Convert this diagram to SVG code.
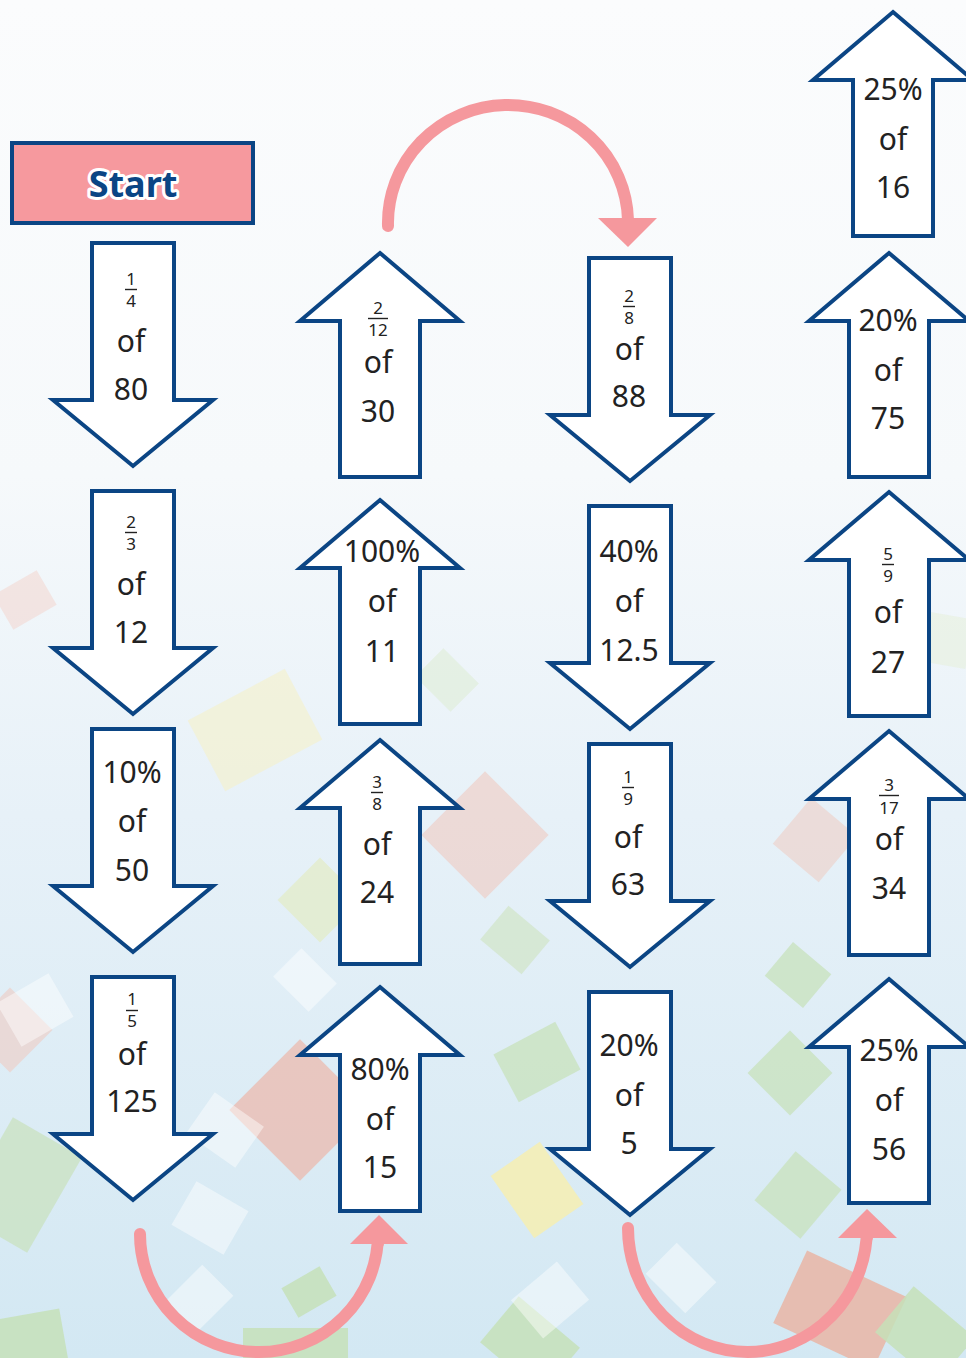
<svg xmlns="http://www.w3.org/2000/svg" xmlns:xlink="http://www.w3.org/1999/xlink" width="966" height="1358" viewBox="0 0 966 1358">
<style>
.ar{fill:#ffffff;stroke:#0b4584;stroke-width:4;stroke-linejoin:miter}
.t{font-family:"Noto Sans","Open Sans",sans-serif;font-size:30px;fill:#222222;text-anchor:middle}
.f{font-family:"Noto Sans","Open Sans",sans-serif;font-size:17px;fill:#222222;text-anchor:middle}
.bar{stroke:#222222;stroke-width:1.4}
.cf{stroke:none}
.pk{fill:none;stroke:#f5989d;stroke-width:12;stroke-linecap:round}
.ph{fill:#f5989d;stroke:none}
</style>
<defs>
<linearGradient id="bg" x1="0" y1="0" x2="0" y2="1">
<stop offset="0" stop-color="#fbfcfd"/>
<stop offset="0.35" stop-color="#f6f9fb"/>
<stop offset="0.6" stop-color="#e7f1f8"/>
<stop offset="1" stop-color="#d3e8f3"/>
</linearGradient>
<path id="down" d="M-41,0 H41 V157 H80 L0,223 L-80,157 H-41 Z"/>
<path id="up" d="M0,0 L80,68 H40 V224 H-40 V68 H-80 Z"/>
</defs>
<rect x="0" y="0" width="966" height="1358" fill="url(#bg)"/>
<g id="confetti" class="cf">
<rect x="-25" y="-20" width="50" height="40" fill="#f3cfc6" opacity="0.45" transform="translate(25,600) rotate(-30)"/>
<rect x="-55" y="-40" width="110" height="80" fill="#f6f0c4" opacity="0.55" transform="translate(255,730) rotate(-28)"/>
<rect x="-45" y="-45" width="90" height="90" fill="#f1c6bb" opacity="0.55" transform="translate(485,835) rotate(45)"/>
<rect x="-30" y="-30" width="60" height="60" fill="#e3ebbd" opacity="0.6" transform="translate(320,900) rotate(45)"/>
<rect x="-27" y="-22" width="54" height="44" fill="#cfe4c3" opacity="0.65" transform="translate(515,940) rotate(40)"/>
<rect x="-30" y="-30" width="60" height="60" fill="#f0c7bb" opacity="0.5" transform="translate(815,840) rotate(40)"/>
<rect x="-30" y="-30" width="60" height="60" fill="#f1c9be" opacity="0.55" transform="translate(10,1030) rotate(45)"/>
<rect x="-50" y="-50" width="100" height="100" fill="#ecb7a9" opacity="0.7" transform="translate(300,1110) rotate(45)"/>
<rect x="-40" y="-55" width="80" height="110" fill="#c9e1bc" opacity="0.7" transform="translate(20,1185) rotate(30)"/>
<rect x="-35" y="-27" width="70" height="54" fill="#c9e2bf" opacity="0.8" transform="translate(537,1062) rotate(-28)"/>
<rect x="-30" y="-38" width="60" height="76" fill="#f6eeb2" opacity="0.85" transform="translate(537,1190) rotate(-35)"/>
<rect x="-25" y="-22" width="50" height="44" fill="#c9e2bf" opacity="0.8" transform="translate(798,975) rotate(40)"/>
<rect x="-30" y="-30" width="60" height="60" fill="#c9e2bf" opacity="0.8" transform="translate(790,1073) rotate(45)"/>
<rect x="-30" y="-32" width="60" height="64" fill="#c9e2bf" opacity="0.8" transform="translate(798,1195) rotate(40)"/>
<rect x="-55" y="-40" width="110" height="80" fill="#e9b5a5" opacity="0.85" transform="translate(840,1310) rotate(25)"/>
<rect x="243" y="1328" width="105" height="40" fill="#c6e1b9" opacity="0.85"/>
<rect x="-22" y="-17" width="44" height="34" fill="#c6e1b9" opacity="0.85" transform="translate(309,1292) rotate(-30)"/>
<rect x="-40" y="-30" width="80" height="60" fill="#c6e1b9" opacity="0.85" transform="translate(25,1345) rotate(-10)"/>
<rect x="-40" y="-30" width="80" height="60" fill="#c6e1b9" opacity="0.85" transform="translate(530,1345) rotate(40)"/>
<rect x="-40" y="-30" width="80" height="60" fill="#c6e1b9" opacity="0.85" transform="translate(925,1335) rotate(40)"/>
<rect x="-30" y="-25" width="60" height="50" fill="#ffffff" opacity="0.45" transform="translate(35,1010) rotate(-30)"/>
<rect x="-30" y="-25" width="60" height="50" fill="#ffffff" opacity="0.45" transform="translate(210,1218) rotate(30)"/>
<rect x="-28" y="-22" width="56" height="44" fill="#ffffff" opacity="0.45" transform="translate(198,1300) rotate(-45)"/>
<rect x="-30" y="-25" width="60" height="50" fill="#ffffff" opacity="0.45" transform="translate(225,1130) rotate(35)"/>
<rect x="-28" y="-22" width="56" height="44" fill="#ffffff" opacity="0.45" transform="translate(681,1278) rotate(45)"/>
<rect x="-30" y="-25" width="60" height="50" fill="#ffffff" opacity="0.45" transform="translate(550,1300) rotate(-40)"/>
<rect x="-25" y="-20" width="50" height="40" fill="#ffffff" opacity="0.45" transform="translate(305,980) rotate(45)"/>
<rect x="-25" y="-20" width="50" height="40" fill="#dbeccf" opacity="0.5" transform="translate(447,680) rotate(45)"/>
<rect x="-25" y="-25" width="50" height="50" fill="#e6efd7" opacity="0.5" transform="translate(945,640) rotate(10)"/>
</g>
<g id="start">
<rect x="12" y="143" width="241" height="80" fill="#f6999e" stroke="#0b4584" stroke-width="4"/>
<text x="133" y="197" font-family="'Noto Sans',sans-serif" font-size="36" font-weight="bold" fill="#0b4584" stroke="#ffffff" stroke-width="6" stroke-linejoin="round" paint-order="stroke" text-anchor="middle">Start</text>
</g>
<g id="c1a1">
<use href="#down" x="133" y="243" class="ar"/>
<text class="f" x="131" y="285">1</text><line class="bar" x1="125" y1="289.5" x2="137" y2="289.5"/><text class="f" x="131" y="307">4</text>
<text class="t" x="131" y="352">of</text><text class="t" x="131" y="400">80</text>
</g>
<g id="c1a2">
<use href="#down" x="133" y="491" class="ar"/>
<text class="f" x="131" y="528">2</text><line class="bar" x1="125" y1="532.5" x2="137" y2="532.5"/><text class="f" x="131" y="550">3</text>
<text class="t" x="131" y="595">of</text><text class="t" x="131" y="643">12</text>
</g>
<g id="c1a3">
<use href="#down" x="133" y="729" class="ar"/>
<text class="t" x="132" y="783">10%</text>
<text class="t" x="132" y="832">of</text><text class="t" x="132" y="881">50</text>
</g>
<g id="c1a4">
<use href="#down" x="133" y="977" class="ar"/>
<text class="f" x="132" y="1005">1</text><line class="bar" x1="126" y1="1010.5" x2="138" y2="1010.5"/><text class="f" x="132" y="1027">5</text>
<text class="t" x="132" y="1065">of</text><text class="t" x="132" y="1112">125</text>
</g>
<g id="c2a1">
<use href="#up" x="380" y="253" class="ar"/>
<text class="f" x="378" y="314">2</text><line class="bar" x1="368" y1="318.5" x2="388" y2="318.5"/><text class="f" x="378" y="336">12</text>
<text class="t" x="378" y="373">of</text><text class="t" x="378" y="422">30</text>
</g>
<g id="c2a2">
<use href="#up" x="380" y="500" class="ar"/>
<text class="t" x="382" y="562">100%</text>
<text class="t" x="382" y="612">of</text><text class="t" x="382" y="662">11</text>
</g>
<g id="c2a3">
<use href="#up" x="380" y="740" class="ar"/>
<text class="f" x="377" y="788">3</text><line class="bar" x1="371" y1="792.5" x2="383" y2="792.5"/><text class="f" x="377" y="810">8</text>
<text class="t" x="377" y="855">of</text><text class="t" x="377" y="903">24</text>
</g>
<g id="c2a4">
<use href="#up" x="380" y="987" class="ar"/>
<text class="t" x="380" y="1080">80%</text>
<text class="t" x="380" y="1130">of</text><text class="t" x="380" y="1178">15</text>
</g>
<g id="c3a1">
<use href="#down" x="630" y="258" class="ar"/>
<text class="f" x="629" y="302">2</text><line class="bar" x1="623" y1="306.5" x2="635" y2="306.5"/><text class="f" x="629" y="324">8</text>
<text class="t" x="629" y="360">of</text><text class="t" x="629" y="407">88</text>
</g>
<g id="c3a2">
<use href="#down" x="630" y="506" class="ar"/>
<text class="t" x="629" y="562">40%</text>
<text class="t" x="629" y="612">of</text><text class="t" x="629" y="661">12.5</text>
</g>
<g id="c3a3">
<use href="#down" x="630" y="744" class="ar"/>
<text class="f" x="628" y="783">1</text><line class="bar" x1="622" y1="787.5" x2="634" y2="787.5"/><text class="f" x="628" y="805">9</text>
<text class="t" x="628" y="848">of</text><text class="t" x="628" y="895">63</text>
</g>
<g id="c3a4">
<use href="#down" x="630" y="992" class="ar"/>
<text class="t" x="629" y="1056">20%</text>
<text class="t" x="629" y="1106">of</text><text class="t" x="629" y="1154">5</text>
</g>
<g id="c4a1">
<use href="#up" x="893" y="12" class="ar"/>
<text class="t" x="893" y="100">25%</text>
<text class="t" x="893" y="150">of</text><text class="t" x="893" y="198">16</text>
</g>
<g id="c4a2">
<use href="#up" x="889" y="253" class="ar"/>
<text class="t" x="888" y="331">20%</text>
<text class="t" x="888" y="381">of</text><text class="t" x="888" y="429">75</text>
</g>
<g id="c4a3">
<use href="#up" x="889" y="492" class="ar"/>
<text class="f" x="888" y="560">5</text><line class="bar" x1="882" y1="564.5" x2="894" y2="564.5"/><text class="f" x="888" y="582">9</text>
<text class="t" x="888" y="623">of</text><text class="t" x="888" y="673">27</text>
</g>
<g id="c4a4">
<use href="#up" x="889" y="731" class="ar"/>
<text class="f" x="889" y="791">3</text><line class="bar" x1="879" y1="795.5" x2="899" y2="795.5"/><text class="f" x="889" y="814">17</text>
<text class="t" x="889" y="850">of</text><text class="t" x="889" y="899">34</text>
</g>
<g id="c4a5">
<use href="#up" x="889" y="979" class="ar"/>
<text class="t" x="889" y="1061">25%</text>
<text class="t" x="889" y="1111">of</text><text class="t" x="889" y="1160">56</text>
</g>
<g id="connectors">
<path class="pk" d="M388,226 A120,118 0 0 1 628,220"/>
<polygon class="ph" points="598,218 657,218 628,247"/>
<path class="pk" d="M140,1234 A119,118 0 0 0 378,1234 L378,1244"/>
<polygon class="ph" points="350,1244 408,1244 379,1215"/>
<path class="pk" d="M628,1228 A119.5,124 0 0 0 867,1228 L867,1238"/>
<polygon class="ph" points="838,1238 897,1238 867,1209"/>
</g>
</svg>
